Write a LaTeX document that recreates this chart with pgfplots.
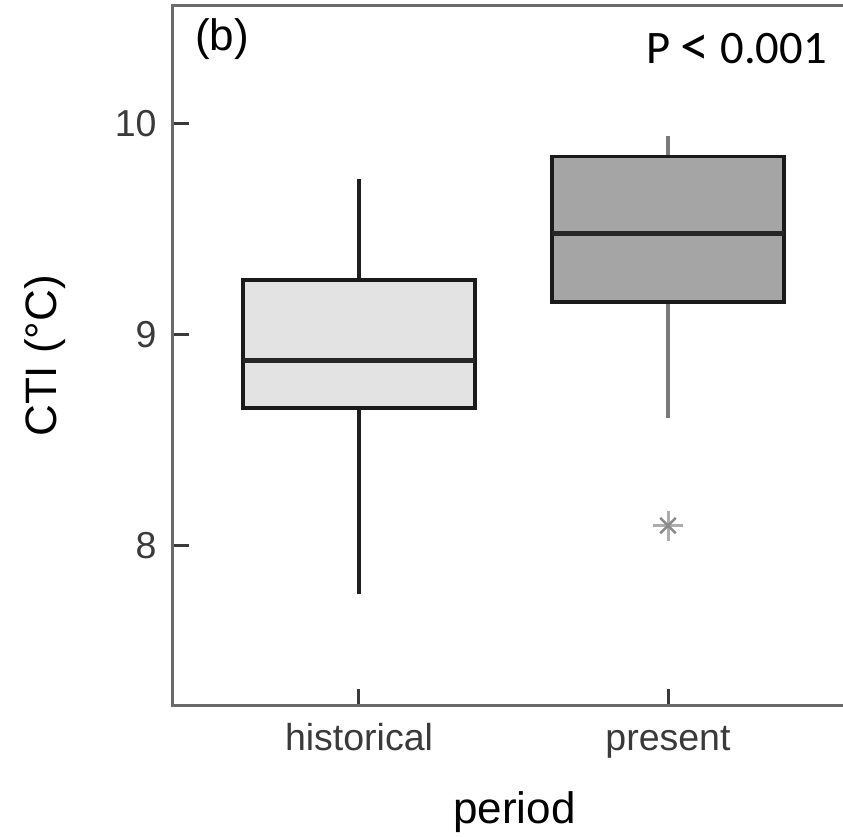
\documentclass[border=0pt]{standalone}
\usepackage{fontspec}
\setmainfont{Liberation Sans}
\newfontfamily\calibri{Carlito}
\usepackage{pgfplots}
\pgfplotsset{compat=1.18}
\definecolor{histfill}{HTML}{E3E3E3}
\definecolor{presfill}{HTML}{A5A5A5}
\definecolor{boxline}{HTML}{1A1A1A}
\definecolor{axline}{HTML}{6A6A6A}
\definecolor{ticklab}{HTML}{3A3A3A}
\definecolor{wgray}{HTML}{7A7A7A}
\definecolor{outl}{HTML}{8A8A8A}
\begin{document}
\begin{tikzpicture}
\begin{axis}[
  name=ax,
  scale only axis,
  width=674.7pt, height=699.7pt,
  xmin=0.3958, xmax=2.5793,
  ymin=7.2415, ymax=10.5545,
  xtick={1,2}, xticklabels={historical,present},
  ytick={8,9,10},
  /pgf/number format/assume math mode=true,
  tick align=inside,
  xtick pos=bottom, ytick pos=left,
  major tick length=17pt,
  tick style={line width=3pt, color=ticklab},
  axis line style={line width=3pt, color=axline},
  ticklabel style={font=\fontsize{37.5}{40}\selectfont, text=ticklab},
  yticklabel style={anchor=east, inner sep=0pt, xshift=-15.6pt},
  xticklabel style={anchor=base, inner sep=0pt, yshift=-44.3pt},
  xlabel={period},
  ylabel={CTI (°C)},
  label style={font=\fontsize{44}{46}\selectfont, text=black},
  xlabel style={at={(axis description cs:0.507,0)}, anchor=base, inner sep=0pt, yshift=-117.3pt},
  ylabel style={at={(axis description cs:0,0.5)}, anchor=base, inner sep=0pt, yshift=115.6pt},
  clip=false,
  line join=miter,
]
% historical: whiskers, box, median
\addplot[line width=3.5pt, draw=black!88] coordinates {(1,9.257) (1,9.734)};
\addplot[line width=3.5pt, draw=black!88] coordinates {(1,7.769) (1,8.650)};
\addplot[line width=3.5pt, draw=boxline, fill=histfill] coordinates {(0.625,8.650) (1.375,8.650) (1.375,9.257) (0.625,9.257)} -- cycle;
\addplot[line width=5.5pt, draw=black!85] coordinates {(0.625,8.875) (1.375,8.875)};
% present: whiskers, box, median
\addplot[line width=3.5pt, draw=wgray] coordinates {(2,9.841) (2,9.939)};
\addplot[line width=3.5pt, draw=wgray] coordinates {(2,8.605) (2,9.152)};
\addplot[line width=3.5pt, draw=boxline, fill=presfill] coordinates {(1.625,9.152) (2.375,9.152) (2.375,9.841) (1.625,9.841)} -- cycle;
\addplot[line width=5.5pt, draw=black!85] coordinates {(1.625,9.478) (2.375,9.478)};
% outlier
\addplot[only marks, mark=+, mark size=15pt, mark options={line width=3pt, draw=outl!70}] coordinates {(2,8.094)};
\addplot[only marks, mark=x, mark size=11pt, mark options={line width=2.5pt, draw=outl}] coordinates {(2,8.094)};
\node[anchor=base west, inner sep=0pt, font=\fontsize{44}{46}\selectfont] at (rel axis cs:0.0336,0.9371) {(b)};
\node[anchor=base west, inner sep=0pt, font=\calibri\fontsize{46.6}{48}\selectfont] at (rel axis cs:0.7023,0.9181) {P \raisebox{-2.5pt}{\scalebox{1.25}{<}} 0.001};
\end{axis}
\pgfresetboundingbox
\path (ax.south west) ++(-172.3pt,-130.3pt) coordinate (bbsw);
\path (ax.south west) ++(670.7pt,705.7pt) coordinate (bbne);
\path[use as bounding box] (bbsw) rectangle (bbne);
\end{tikzpicture}
\end{document}
